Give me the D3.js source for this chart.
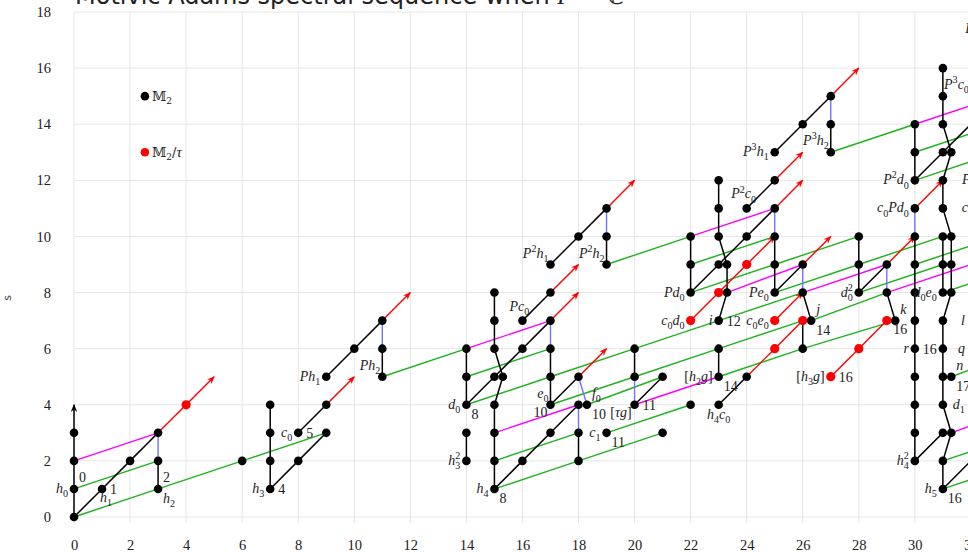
<!DOCTYPE html>
<html>
<head>
<meta charset="utf-8">
<script src="https://cdn.jsdelivr.net/npm/d3@7"></script>
<style>
  body { margin: 0; background: #fff; overflow: hidden; }
  svg { display: block; }
</style>
</head>
<body>
<script>
// ticks
var xTicks = [0, 2, 4, 6, 8, 10, 12, 14, 16, 18, 20, 22, 24, 26, 28, 30, 32];
var yTicks = [0, 2, 4, 6, 8, 10, 12, 14, 16, 18];

// classes in M2 (stem, filtration)
var m2Dots = [
  [0,0],[0,1],[0,2],[0,3],[1,1],[2,2],[3,1],[3,2],[3,3],[6,2],
  [7,1],[7,2],[7,3],[7,4],[8,2],[8,3],[9,3],[9,4],[9,5],[10,6],[11,5],[11,6],[11,7],
  [14,2],[14,3],[14,4],[14,5],[14,6],
  [15,1],[15,2],[15,3],[15,4],[15,5],[15.3,5],[15,6],[15,7],[15,8],
  [16,2],[16,6],[16,7],
  [17,3],[17,4],[17,5],[17,6],[17,7],[17,8],[17,9],
  [18,2],[18,3],[18,4],[18.3,4],[18,5],[18,10],
  [19,3],[19,9],[19,10],[19,11],
  [20,4],[20,5],[20,6],[21,3],[21,5],
  [22,4],[22,8],[22,9],[22,10],
  [23,4],[23,5],[23,6],[23,7],[23.3,8],[23,9],[23.3,9],[23,10],[23,11],[23,12],
  [24,5],[24,10],[24,11],
  [25,8],[25,9],[25,10],[25,11],[25,12],[25,13],
  [26,6],[26.3,7],[26,8],[26,9],[26,14],
  [27,13],[27,14],[27,15],
  [28,8],[28,9],[28,10],
  [29.3,7],[29,8],[29,9],
  [30,2],[30,3],[30,4],[30,5],[30,6],[30,7],[30,8],[30,9],[30,10],[30,11],[30,12],[30,13],[30,14],
  [31,1],[31,2],[31,3],[31.3,3],[31,4],[31,5],[31.3,5],[31,6],[31,7],[31,8],[31.3,8],
  [31,9],[31.3,9],[31,10],[31.3,10],[31,11],[31,12],[31,13],[31.3,13],[31,14],[31,15],[31,16]
];
// classes in M2/tau
var tauDots = [[4,4],[22,7],[23,8],[24,9],[25,6],[25,7],[26,7],[27,5],[28,6],[29,7]];

var blackLines = [
  [0,0,0,1],[0,1,0,2],[0,2,0,3],[0,0,1,1],[1,1,2,2],[2,2,3,3],[3,1,3,2],
  [7,1,7,2],[7,2,7,3],[7,3,7,4],[7,1,8,2],[8,2,9,3],[8,3,9,4],
  [9,5,10,6],[10,6,11,7],[11,5,11,6],
  [14,2,14,3],[14,4,14,5],[14,5,14,6],
  [15,1,15,2],[15,2,15,3],[15,3,15,4],[15,4,15.3,5],[15.3,5,15,6],[15,6,15,7],[15,7,15,8],
  [14,4,15,5],[15,5,16,6],[16,6,17,7],[15,1,16,2],[16,2,17,3],[17,3,18,4],[16,7,17,8],
  [17,4,17,5],[17,5,17,6],[17,4,18,5],[18,2,18,3],[20,5,20,6],[20,4,21,5],
  [17,9,18,10],[18,10,19,11],[19,9,19,10],
  [22,8,22,9],[22,9,22,10],[22,8,23,9],[23,9,24,10],[24,10,25,11],
  [23,10,23,11],[23,11,23,12],[23,10,23.3,9],[23.3,9,23.3,8],[23.3,8,23,7],
  [23,5,23,6],[23,4,24,5],[24,11,25,12],[25,8,25,9],[25,9,25,10],
  [25,8,26,9],[26,8,26.3,7],[26,6,26,7],[25,13,26,14],[26,14,27,15],[27,13,27,14],
  [28,8,28,9],[28,9,28,10],[28,8,29,9],[29,8,29.3,7],
  [30,2,30,3],[30,3,30,4],[30,4,30,5],[30,5,30,6],[30,6,30,7],[30,7,30,8],[30,8,30,9],[30,9,30,10],
  [30,12,30,13],[30,13,30,14],[30,2,31,3],[30,12,31,13],[31,13,32,14],
  [31,1,31,2],[31,2,31.3,3],[31.3,3,31,4],[31,4,31,5],[31,5,31,6],[31,6,31,7],[31,7,31.3,8],
  [31,8,31,9],[31,9,31,10],[31.3,8,31.3,9],[31.3,9,31.3,10],[31.3,10,31,11],[31,11,31,12],
  [31,12,31.3,13],[31.3,13,31,14],[31,14,31,15],[31,15,31,16],[31,1,32,2]
];
var blueLines = [
  [3,2,3,3],[11,6,11,7],[17,6,17,7],[18,3,18,4],[18,5,18.3,4],[20,4,20,5],[19,10,19,11],
  [25,10,25,11],[26,8,26,9],[27,14,27,15],[29,8,29,9],[30,10,30,11]
];
var greenLines = [
  [0,0,3,1],[0,1,3,2],[3,1,6,2],[6,2,9,3],[11,5,14,6],
  [14,4,17,5],[14,5,17,6],[15,1,18,2],[15,2,18,3],[17,4,20,5],[17,5,20,6],[18.3,4,21,5],
  [18,2,21,3],[19,3,22,4],[20,5,23,6],[20,6,23,7],
  [19,9,22,10],[22,9,25,10],[22,8,25,9],[23,7,26,8],[23,6,26,7],[23,5,26,6],
  [25,9,28,10],[25,8,28,9],[26,6,29.3,7],[26.3,7,29,8],[28,9,31,10],[28,8,31,9],
  [27,13,30,14],[30,13,33,14],[30,12,33,13],[30,9,33,10],
  [31,1,34,2],[31,2,34,3],[31.3,5,34,6],[31,8,34,9]
];
var magentaLines = [
  [0,2,3,3],[14,6,17,7],[15,3,18,4],[20,4,23,5],[22,10,25,11],[23.3,8,26,9],
  [26,8,29,9],[29,8,32,9],[30,14,33,15],[31.3,3,34,4]
];
var redLines = [[3,3,4,4],[22,7,23,8],[23,8,24,9],[24,5,25,6],[25,6,26,7],[27,5,28,6],[28,6,29,7]];
var redArrows = [
  [4,4,5,5],[9,4,10,5],[11,7,12,8],[17,7,18,8],[17,8,18,9],[18,5,19,6],[19,11,20,12],
  [24,9,25,10],[25,7,26,8],[25,11,26,12],[25,12,26,13],[26,9,27,10],[27,15,28,16],
  [29,9,30,10],[30,11,31,12]
];
var blackArrows = [[0,3,0,4]];

// labels: text, stem, filtration, placement
var names = [
  ["h_0",0,1,"L"],["h_1",1,1,"B"],["h_2",3,1,"BR"],["h_3",7,1,"L"],["c_0",8,3,"L"],
  ["Ph_1",9,5,"L"],["Ph_2",11,5,"UL"],["d_0",14,4,"L"],["h_3^2",14,2,"L"],["h_4",15,1,"L"],
  ["Pc_0",16,7,"UC"],["e_0",17,4,"UL"],["f_0",18.3,4,"UR"],["c_1",19,3,"L"],["[τg]",20,4,"BL"],
  ["P^2h_1",17,9,"UL"],["P^2h_2",19,9,"UL"],["[h_2g]",23,5,"L"],["h_4c_0",23,4,"BC"],
  ["c_0d_0",22,7,"L"],["Pd_0",22,8,"L"],["i",23,7,"L"],["P^2c_0",24,11,"UC"],["c_0e_0",25,7,"L"],
  ["Pe_0",25,8,"L"],["j",26.3,7,"UR"],["[h_3g]",27,5,"L"],["P^3h_1",25,13,"L"],["P^3h_2",27,13,"UL"],
  ["d_0^2",28,8,"L"],["k",29.3,7,"UR"],["P^2d_0",30,12,"L"],["c_0Pd_0",30,11,"L"],["r",30,6,"L"],
  ["h_4^2",30,2,"L"],["h_5",31,1,"L"],["d_0e_0",31,8,"L"],["n",31.3,5,"UR"],
  ["P^4h_1",33,17,"ULL"],["P^3c_0",32,15,"UL"],["P^2e_0",33,12,"LL"],["c_0Pe_0",33,11,"L"],
  ["l",32,7,"L"],["q",32,6,"L"],["d_1",32,4,"L"]
];
var weights = [
  ["0",0,1,"UR"],["1",1,1,"R"],["2",3,1,"UR"],["4",7,1,"R"],["5",8,3,"R"],["8",14,4,"BR"],
  ["8",15,1,"BR"],["10",17,4,"BL"],["10",18.3,4,"BR"],["11",19,3,"BR"],["11",20,4,"R"],
  ["14",23,5,"BR"],["12",23,7,"R"],["14",26.3,7,"BR"],["16",27,5,"R"],["16",29.3,7,"B"],
  ["16",30,6,"R"],["16",31,1,"BR"],["17",31.3,5,"BR"],["18",32,4,"B"]
];

var place = {
  L:   {anchor: "end",    dx: -6,  dy: 4},
  LL:  {anchor: "end",    dx: -12, dy: 4},
  R:   {anchor: "start",  dx: 8,   dy: 5},
  UL:  {anchor: "end",    dx: -2,  dy: -7},
  ULL: {anchor: "end",    dx: -8,  dy: -7},
  UC:  {anchor: "middle", dx: -3,  dy: -10},
  UR:  {anchor: "start",  dx: 5,   dy: -7},
  BR:  {anchor: "start",  dx: 5,   dy: 14},
  BL:  {anchor: "end",    dx: -3,  dy: 12},
  B:   {anchor: "start",  dx: -2,  dy: 13},
  BC:  {anchor: "middle", dx: 0,   dy: 14}
};

var width = 1100, height = 552;
var x = d3.scaleLinear().domain([0, 32]).range([74, 970.9]);
var y = d3.scaleLinear().domain([0, 18]).range([517, 12]);

var svg = d3.select("body").append("svg")
    .attr("width", width).attr("height", height);

// grid
var grid = svg.append("g").attr("stroke", "#e6e6e6").attr("stroke-width", 1);
grid.selectAll(".gx").data(xTicks).enter().append("line")
    .attr("x1", d => x(d)).attr("x2", d => x(d))
    .attr("y1", y(18)).attr("y2", y(-0.22));
grid.selectAll(".gy").data(yTicks).enter().append("line")
    .attr("x1", x(0)).attr("x2", width)
    .attr("y1", d => y(d)).attr("y2", d => y(d));

// axes (labels only)
var xAxis = svg.append("g").attr("transform", "translate(0,545)")
    .call(d3.axisBottom(x).tickValues(xTicks).tickSize(0).tickPadding(0));
var yAxis = svg.append("g").attr("transform", "translate(51,0)")
    .call(d3.axisLeft(y).tickValues(yTicks).tickSize(0).tickPadding(0));
[xAxis, yAxis].forEach(function(a) {
  a.select(".domain").remove();
  a.selectAll("text").attr("font-family", "'Liberation Serif', 'DejaVu Serif', serif")
    .attr("font-size", 14.5).attr("fill", "#222");
});
xAxis.selectAll("text").attr("dy", "0.32em");

// y axis title (rotated)
svg.append("text").attr("transform", "translate(11,298) rotate(-90)")
    .attr("text-anchor", "middle").attr("font-family", "'DejaVu Sans', sans-serif")
    .attr("font-size", 11).attr("fill", "#444").text("s");

// title
var title = svg.append("text").attr("x", 75).attr("y", 4)
    .attr("font-family", "'DejaVu Sans', sans-serif").attr("font-size", 24).attr("fill", "#222");
title.append("tspan").text("Motivic Adams spectral sequence when ");
title.append("tspan").attr("font-family", "'Liberation Serif', serif").attr("font-style", "italic").text("F");
title.append("tspan").text(" = ℂ");

// arrowheads
var defs = svg.append("defs");
[["arrowRed", "#ff0000"], ["arrowBlack", "#000"]].forEach(function(m) {
  defs.append("marker").attr("id", m[0]).attr("viewBox", "0 0 10 10")
    .attr("refX", 9).attr("refY", 5).attr("markerWidth", 8).attr("markerHeight", 8)
    .attr("orient", "auto").attr("markerUnits", "userSpaceOnUse")
    .append("path").attr("d", "M0,1 L10,5 L0,9 L3,5 Z").attr("fill", m[1]);
});

function drawLines(data, color, w, marker) {
  var sel = svg.append("g").selectAll("line").data(data).enter().append("line")
      .attr("x1", d => x(d[0])).attr("y1", d => y(d[1]))
      .attr("x2", d => x(d[2])).attr("y2", d => y(d[3]))
      .attr("stroke", color).attr("stroke-width", w);
  if (marker) sel.attr("marker-end", "url(#" + marker + ")");
}
drawLines(greenLines, "#1db31d", 1.4);
drawLines(magentaLines, "#ff00ff", 1.4);
drawLines(blueLines, "#7373ff", 1.4);
drawLines(blackLines, "#000", 1.5);
drawLines(redLines, "#ff0000", 1.4);
drawLines(redArrows, "#ff0000", 1.4, "arrowRed");
drawLines(blackArrows, "#000", 1.5, "arrowBlack");

// dots
svg.append("g").selectAll("circle").data(m2Dots).enter().append("circle")
    .attr("cx", d => x(d[0])).attr("cy", d => y(d[1])).attr("r", 4.3).attr("fill", "#000");
svg.append("g").selectAll("circle").data(tauDots).enter().append("circle")
    .attr("cx", d => x(d[0])).attr("cy", d => y(d[1])).attr("r", 4.6).attr("fill", "#ff0000");

// math text: letters italic, _x subscript, ^x superscript
function mathText(t, str, size) {
  var shift = 0, prevSub = false, i = 0;
  while (i < str.length) {
    var c = str[i];
    if ((c === "_" || c === "^") && i + 1 < str.length) {
      var s = str[i + 1];
      var target = c === "_" ? size * 0.3 : -size * 0.42;
      var ts = t.append("tspan").attr("dy", target - shift).attr("font-size", size * 0.72)
          .attr("font-style", /[a-zA-Z]/.test(s) ? "italic" : "normal").text(s);
      if (c === "^" && prevSub) ts.attr("dx", -size * 0.72 * 0.5);
      shift = target; prevSub = (c === "_"); i += 2;
    } else {
      t.append("tspan").attr("dy", -shift).attr("font-size", size)
          .attr("font-style", /[a-zA-Zτ]/.test(c) ? "italic" : "normal").text(c);
      shift = 0; prevSub = false; i++;
    }
  }
}

var labelG = svg.append("g").attr("font-family", "'Liberation Serif', 'DejaVu Serif', serif").attr("fill", "#222");
names.forEach(function(d) {
  var p = place[d[3]];
  var t = labelG.append("text").attr("x", x(d[1]) + p.dx).attr("y", y(d[2]) + p.dy)
      .attr("text-anchor", p.anchor);
  mathText(t, d[0], 14);
});
weights.forEach(function(d) {
  var p = place[d[3]];
  labelG.append("text").attr("x", x(d[1]) + p.dx).attr("y", y(d[2]) + p.dy)
      .attr("text-anchor", p.anchor).attr("font-size", 14).text(d[0]);
});

// legend
var legend = [["M2", "#000", 15], ["M2/τ", "#ff0000", 13]];
legend.forEach(function(l) {
  svg.append("circle").attr("cx", x(2.53)).attr("cy", y(l[2])).attr("r", 4.3).attr("fill", l[1]);
  var t = svg.append("text").attr("x", x(2.53) + 7).attr("y", y(l[2]) + 5)
      .attr("font-family", "'DejaVu Serif', serif").attr("font-size", 13).attr("fill", "#222");
  t.append("tspan").text("𝕄");
  t.append("tspan").attr("font-size", 9).attr("dy", 3).text("2");
  if (l[0].length > 2) {
    t.append("tspan").attr("dy", -3).text("/");
    t.append("tspan").attr("font-style", "italic").attr("font-family", "'Liberation Serif', serif").attr("font-size", 15).text("τ");
  }
});
</script>
</body>
</html>
